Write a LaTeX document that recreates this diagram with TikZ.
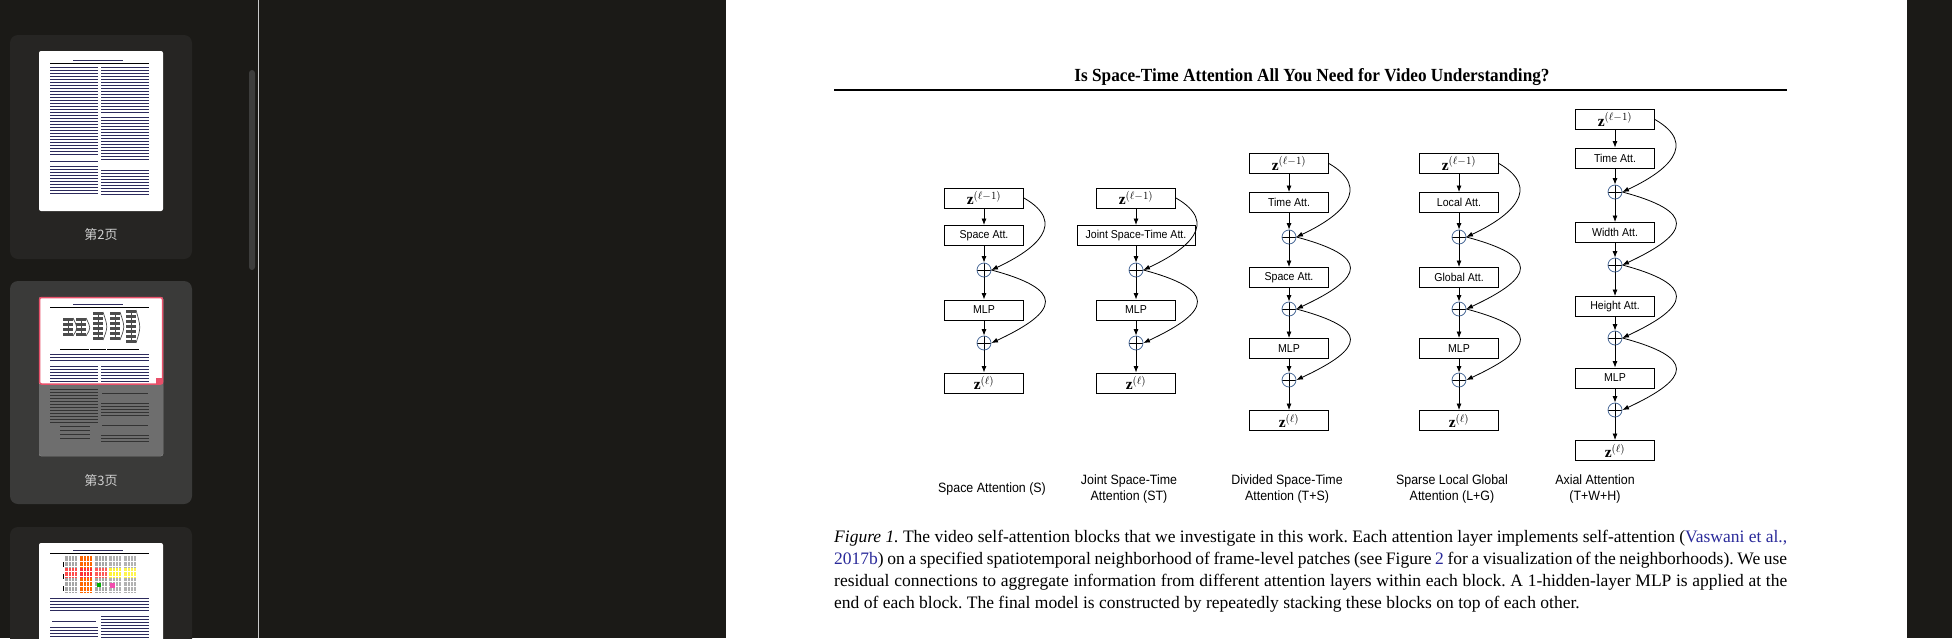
\documentclass[tikz,border=0pt]{standalone}
\usepackage{fontspec}
\setmainfont{Liberation Serif}
\setsansfont{Liberation Sans}
\newfontfamily\cjk{Noto Sans CJK SC}
\newfontfamily\titleserif[FakeStretch=0.93]{Liberation Serif}
\newfontfamily\narrowsans[FakeStretch=0.92]{Liberation Sans}
\usetikzlibrary{arrows.meta, positioning, calc}
\definecolor{appbg}{HTML}{1B1A17}
\definecolor{cardbg}{HTML}{262523}
\definecolor{cardsel}{HTML}{3A3A39}
\definecolor{scrollc}{HTML}{3D3D3C}
\definecolor{labelc}{HTML}{CFCFCF}
\definecolor{thumbink}{HTML}{2C2A5C}
\definecolor{selred}{HTML}{E8506A}
\definecolor{sumblue}{HTML}{4A6A98}
\definecolor{linkblue}{HTML}{2A2A9A}
\frenchspacing

\begin{document}
\begin{tikzpicture}[
    x=1pt, y=1pt,
    blk/.style={draw, line width=0.9pt, minimum width=79pt, minimum height=20pt, inner sep=0pt, font=\narrowsans\fontsize{11.5}{11.5}\selectfont},
    zblk/.style={blk, font=\fontsize{15.5}{15.5}\selectfont},
    addop/.style={circle, draw=sumblue, line width=0.8pt, minimum size=14pt, inner sep=0pt,
        path picture={\draw[black, line width=0.7pt] (path picture bounding box.north) -- (path picture bounding box.south)
            (path picture bounding box.west) -- (path picture bounding box.east);}},
    flow/.style={-{Latex[length=6.5pt,width=5pt]}, line width=0.8pt},
    resfirst/.style={out=-30, in=25, distance=50pt},
    resnext/.style={out=-15, in=25, distance=76pt},
    collabel/.style={font=\narrowsans\fontsize{13.5}{16}\selectfont, align=center},
    ttxt/.style={draw=thumbink, line width=0.9pt},
    gtxt/.style={draw=black!80, line width=0.9pt},
]
\clip (0,0) rectangle (1952,-638);
\fill[appbg] (0,0) rectangle (1952,-638);

% ── Sidebar ──
\draw[black!70!white!30] (258,0) -- (258,-638);
\fill[scrollc, rounded corners=3pt] (249,-70) rectangle (255,-270);
\fill[cardbg, rounded corners=8pt] (10,-35) rectangle (192,-259);
\fill[cardsel, rounded corners=8pt] (10,-281) rectangle (192,-504);
\fill[cardbg, rounded corners=8pt] (10,-527) rectangle (192,-700);
\node[font=\cjk\fontsize{13}{13}\selectfont, text=labelc] (pg2) at (101,-235) {第2页};
\node[font=\cjk\fontsize{13}{13}\selectfont, text=labelc] (pg3) at (101,-481) {第3页};

% page 2 thumbnail
\fill[white, rounded corners=2pt] (39,-51) rectangle (163,-211);
\draw[ttxt] (73,-60) -- (123,-60);
\draw[black, line width=0.7pt] (50,-63) -- (149,-63);
\foreach \ty in {67,70,...,154} \draw[ttxt] (50,-\ty) -- (98,-\ty);
\foreach \ty in {161,166,169,...,193} \draw[ttxt] (50,-\ty) -- (98,-\ty);
\foreach \ty in {67,70,...,112} \draw[ttxt] (101,-\ty) -- (149,-\ty);
\foreach \ty in {117,120,...,160} \draw[ttxt] (101,-\ty) -- (149,-\ty);
\foreach \ty in {170,173,...,194} \draw[ttxt] (101,-\ty) -- (149,-\ty);

% page 3 thumbnail
\fill[white, rounded corners=2pt] (39,-297) rectangle (163,-456);
\fill[black!57, rounded corners=2pt] (39,-384) rectangle (163,-456);
\fill[black!57] (39,-384) rectangle (163,-390);
\draw[ttxt] (73,-304) -- (123,-304);
\draw[black, line width=0.7pt] (50,-307) -- (149,-307);
\foreach \cx/\ctop/\nb in {68/318/4, 81/318/4, 98/312/6, 115/312/6, 131/310/7} {
  \foreach \k in {1,...,\nb} \fill[black!70] ({\cx-5},{-\ctop-5*\k+5}) rectangle ++(10,-2.5);
  \draw[black!70, line width=0.7pt] (\cx,-\ctop) -- (\cx,{-\ctop-5*\nb+2});
  \draw[black!70, line width=0.7pt] ({\cx+5},-\ctop) .. controls ({\cx+10},{-\ctop-2.5*\nb}) .. ({\cx+5},{-\ctop-5*\nb+2});
  \draw[black, line width=0.8pt] ({\cx-8},-349) -- ({\cx+8},-349);
}
\foreach \ty in {354,357,360} \draw[ttxt] (50,-\ty) -- (149,-\ty);
\foreach \ty in {366,369,...,381} \draw[ttxt] (50,-\ty) -- (98,-\ty);
\foreach \ty in {366,369,...,381} \draw[ttxt] (101,-\ty) -- (149,-\ty);
\foreach \ty in {389,392,...,422} \draw[gtxt] (50,-\ty) -- (98,-\ty);
\foreach \ty in {426,430,...,440} \draw[gtxt] (60,-\ty) -- (90,-\ty);
\draw[gtxt] (102,-393) -- (148,-393);
\foreach \ty in {403,406,...,417} \draw[gtxt] (101,-\ty) -- (149,-\ty);
\draw[gtxt] (102,-425) -- (148,-425);
\foreach \ty in {435,438,441} \draw[gtxt] (101,-\ty) -- (149,-\ty);
\draw[selred, line width=1.5pt, rounded corners=2pt] (39.5,-297.5) rectangle (162.5,-384);
\fill[selred] (156,-378) rectangle (162.5,-384);

% page 4 thumbnail
\fill[white, rounded corners=2pt] (39,-543) rectangle (163,-700);
\draw[ttxt] (73,-550) -- (123,-550);
\draw[black, line width=0.7pt] (50,-553) -- (149,-553);
\foreach \bx/\bc/\pc in {65/black!35/red!70, 80/orange!80!red/red!80, 95/black!35/red!65, 109/black!30/yellow!80, 124/black!30/yellow!70} {
  \fill[\bc] (\bx,-556) rectangle ++(12,-37);
  \fill[\pc] (\bx,-568) rectangle ++(12,-10);
  \foreach \gx in {3,6,9} \draw[white, line width=0.3pt] ({\bx+\gx},-556) -- ({\bx+\gx},-593);
  \foreach \gy in {561,566,...,591} \draw[white, line width=0.3pt] (\bx,-\gy) -- ({\bx+12},-\gy);
}
\fill[magenta!70] (110,-583) rectangle ++(5,-5);
\fill[green!70!black] (97,-583) rectangle ++(4,-4);
\foreach \ty in {562,574,586} \draw[black, line width=1pt] (63,-\ty) -- (63,{-\ty-5});
\foreach \ty in {598,601,604,607,610} \draw[ttxt] (50,-\ty) -- (149,-\ty);
\draw[ttxt] (52,-621) -- (96,-621);
\foreach \ty in {627,630,...,640} \draw[ttxt] (50,-\ty) -- (98,-\ty);
\foreach \ty in {616,619,...,640} \draw[ttxt] (101,-\ty) -- (149,-\ty);

% ── Page ──
\fill[white] (726,0) rectangle (1907,-638);
\node[font=\titleserif\bfseries\fontsize{18.5}{18.5}\selectfont] (title) at (1312,-77) {Is Space-Time Attention All You Need for Video Understanding?};
\draw[line width=1.6pt] (834,-90) -- (1787,-90);

% ── Space Attention (S) ──
\node[zblk] (s0) at (984,-198) {$\mathbf{z}^{(\ell-1)}$};
\node[blk] (sa) at (984,-235.5) {Space Att.};
\node[addop] (s1) at (984,-270) {};
\node[blk] (sm) at (984,-310) {MLP};
\node[addop] (s2) at (984,-343) {};
\node[zblk] (sz) at (984,-383) {$\mathbf{z}^{(\ell)}$};
\draw[flow] (s0) -- (sa);
\draw[flow] (sa) -- (s1);
\draw[flow] (s1) -- (sm);
\draw[flow] (sm) -- (s2);
\draw[flow] (s2) -- (sz);
\draw[flow] (s0.east) to[resfirst] (s1.east);
\draw[flow] (s1.east) to[resnext] (s2.east);

% ── Joint Space-Time Attention (ST) ──
\node[zblk] (j0) at (1136,-198) {$\mathbf{z}^{(\ell-1)}$};
\node[blk, minimum width=118pt] (ja) at (1136,-235.5) {Joint Space-Time Att.};
\node[addop] (j1) at (1136,-270) {};
\node[blk] (jm) at (1136,-310) {MLP};
\node[addop] (j2) at (1136,-343) {};
\node[zblk] (jz) at (1136,-383) {$\mathbf{z}^{(\ell)}$};
\draw[flow] (j0) -- (ja);
\draw[flow] (ja) -- (j1);
\draw[flow] (j1) -- (jm);
\draw[flow] (jm) -- (j2);
\draw[flow] (j2) -- (jz);
\draw[flow] (j0.east) to[resfirst] (j1.east);
\draw[flow] (j1.east) to[resnext] (j2.east);

% ── Divided Space-Time Attention (T+S) ──
\node[zblk] (d0) at (1289,-163.5) {$\mathbf{z}^{(\ell-1)}$};
\node[blk] (dt) at (1289,-202.5) {Time Att.};
\node[addop] (d1) at (1289,-237) {};
\node[blk] (ds) at (1289,-277.5) {Space Att.};
\node[addop] (d2) at (1289,-309) {};
\node[blk] (dm) at (1289,-348.5) {MLP};
\node[addop] (d3) at (1289,-380) {};
\node[zblk] (dz) at (1289,-420.5) {$\mathbf{z}^{(\ell)}$};
\draw[flow] (d0) -- (dt);
\draw[flow] (dt) -- (d1);
\draw[flow] (d1) -- (ds);
\draw[flow] (ds) -- (d2);
\draw[flow] (d2) -- (dm);
\draw[flow] (dm) -- (d3);
\draw[flow] (d3) -- (dz);
\draw[flow] (d0.east) to[resfirst] (d1.east);
\draw[flow] (d1.east) to[resnext] (d2.east);
\draw[flow] (d2.east) to[resnext] (d3.east);

% ── Sparse Local Global Attention (L+G) ──
\node[zblk] (g0) at (1459,-163.5) {$\mathbf{z}^{(\ell-1)}$};
\node[blk] (gl) at (1459,-202.5) {Local Att.};
\node[addop] (g1) at (1459,-237) {};
\node[blk] (gg) at (1459,-277.5) {Global Att.};
\node[addop] (g2) at (1459,-309) {};
\node[blk] (gm) at (1459,-348.5) {MLP};
\node[addop] (g3) at (1459,-380) {};
\node[zblk] (gz) at (1459,-420.5) {$\mathbf{z}^{(\ell)}$};
\draw[flow] (g0) -- (gl);
\draw[flow] (gl) -- (g1);
\draw[flow] (g1) -- (gg);
\draw[flow] (gg) -- (g2);
\draw[flow] (g2) -- (gm);
\draw[flow] (gm) -- (g3);
\draw[flow] (g3) -- (gz);
\draw[flow] (g0.east) to[resfirst] (g1.east);
\draw[flow] (g1.east) to[resnext] (g2.east);
\draw[flow] (g2.east) to[resnext] (g3.east);

% ── Axial Attention (T+W+H) ──
\node[zblk] (x0) at (1615,-119.5) {$\mathbf{z}^{(\ell-1)}$};
\node[blk] (xt) at (1615,-158) {Time Att.};
\node[addop] (x1) at (1615,-192) {};
\node[blk] (xw) at (1615,-232.5) {Width Att.};
\node[addop] (x2) at (1615,-265) {};
\node[blk] (xh) at (1615,-306.5) {Height Att.};
\node[addop] (x3) at (1615,-338) {};
\node[blk] (xm) at (1615,-378) {MLP};
\node[addop] (x4) at (1615,-410) {};
\node[zblk] (xz) at (1615,-450.5) {$\mathbf{z}^{(\ell)}$};
\draw[flow] (x0) -- (xt);
\draw[flow] (xt) -- (x1);
\draw[flow] (x1) -- (xw);
\draw[flow] (xw) -- (x2);
\draw[flow] (x2) -- (xh);
\draw[flow] (xh) -- (x3);
\draw[flow] (x3) -- (xm);
\draw[flow] (xm) -- (x4);
\draw[flow] (x4) -- (xz);
\draw[flow] (x0.east) to[resfirst] (x1.east);
\draw[flow] (x1.east) to[resnext] (x2.east);
\draw[flow] (x2.east) to[resnext] (x3.east);
\draw[flow] (x3.east) to[resnext] (x4.east);

% ── Column labels ──
\node[collabel] (ls) at (992,-489) {Space Attention (S)};
\node[collabel] (lj) at (1129,-489) {Joint Space-Time\\Attention (ST)};
\node[collabel] (ld) at (1287,-489) {Divided Space-Time\\Attention (T+S)};
\node[collabel] (lg) at (1452,-489) {Sparse Local Global\\Attention (L+G)};
\node[collabel] (lx) at (1595,-489) {Axial Attention\\(T+W+H)};

% ── Caption ──
\node[anchor=north west, inner sep=0pt, align=left, font=\rmfamily\fontsize{17.5}{22}\selectfont] (cap) at (834,-530) {%
\makebox[953pt][s]{\textit{Figure 1.} The video self-attention blocks that we investigate in this work. Each attention layer implements self-attention (\textcolor{linkblue}{Vaswani et al.,}}\\
\makebox[953pt][s]{\textcolor{linkblue}{2017b}) on a specified spatiotemporal neighborhood of frame-level patches (see Figure \textcolor{linkblue}{2} for a visualization of the neighborhoods). We use}\\
\makebox[953pt][s]{residual connections to aggregate information from different attention layers within each block. A 1-hidden-layer MLP is applied at the}\\
end of each block. The final model is constructed by repeatedly stacking these blocks on top of each other.};

\end{tikzpicture}
\end{document}
